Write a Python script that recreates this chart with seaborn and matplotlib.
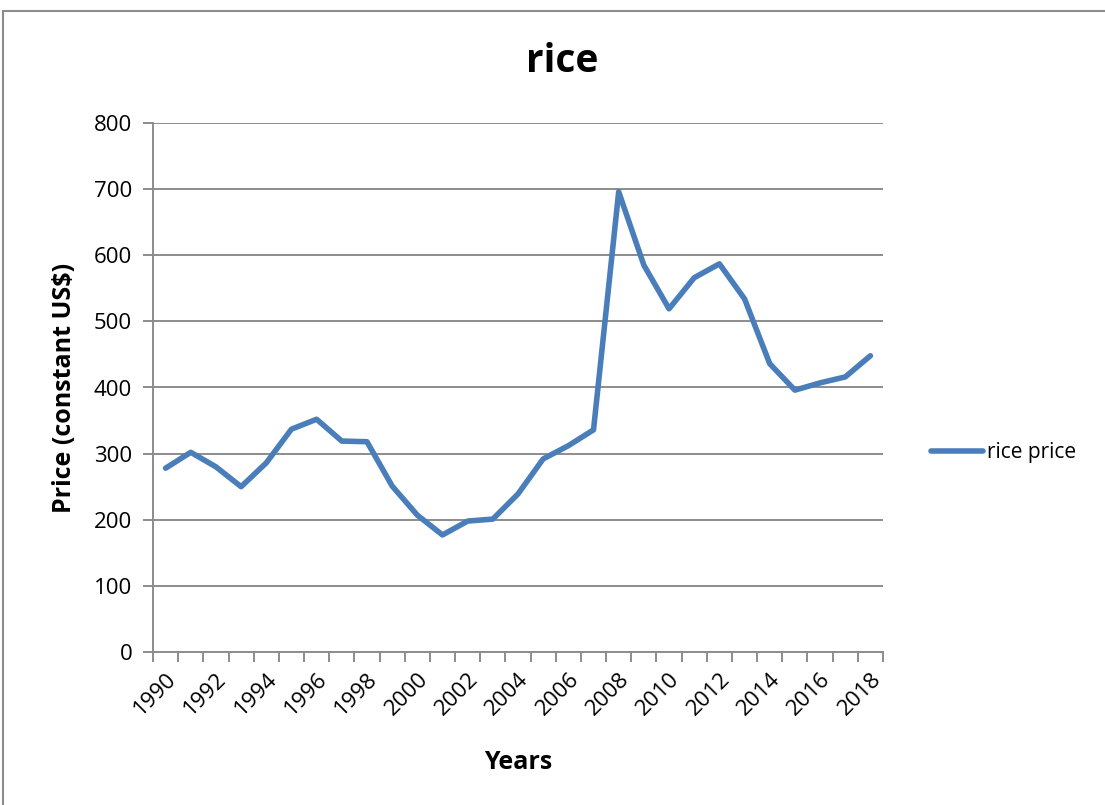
import matplotlib.pyplot as plt
import numpy as np
import pandas as pd
import seaborn as sns
from matplotlib.patches import Rectangle

years = list(range(1990, 2019))
prices = [278, 302, 280, 250, 286, 337, 352, 319, 318, 251,
          207, 177, 198, 201, 239, 292, 312, 336, 696, 585,
          519, 566, 587, 534, 436, 396, 407, 416, 448]

df = pd.DataFrame({'pos': np.arange(len(years)), 'price': prices})

sns.set_style('white')
plt.rcParams['font.family'] = ['Open Sans', 'DejaVu Sans']
plt.rcParams['text.color'] = 'black'
plt.rcParams['xtick.color'] = 'black'
plt.rcParams['ytick.color'] = 'black'
plt.rcParams['axes.labelcolor'] = 'black'

fig = plt.figure(figsize=(11.05, 8.05), dpi=100)
ax = fig.add_axes([153/1105, 1 - 652/805, 730/1105, 529/805])

sns.lineplot(data=df, x='pos', y='price', ax=ax, color='#4A7EBB',
             linewidth=4, label='rice price', solid_joinstyle='round',
             solid_capstyle='round')

ax.set_ylim(0, 800)
ax.set_yticks(range(0, 801, 100))
ax.set_xlim(-0.5, len(years) - 0.5)
ax.grid(axis='y', color='#8c8c8c', linewidth=1.4)
ax.set_axisbelow(True)

# tick marks at category edges, labels every second year
ax.set_xticks(np.arange(-0.5, len(years)), labels=[])
ax.set_xticks(np.arange(0, len(years), 2), minor=True)
ax.set_xticklabels([str(y) for y in years[::2]], minor=True,
                   rotation=45, ha='right', va='top', rotation_mode='anchor',
                   fontsize=16)
ax.tick_params(axis='x', which='major', length=7, width=1.4, color='#8c8c8c',
               direction='out', bottom=True)
ax.tick_params(axis='x', which='minor', length=0, pad=12)
ax.tick_params(axis='y', length=7, width=1.4, color='#8c8c8c',
               direction='out', left=True, labelsize=16, pad=8)

for s in ['top', 'right']:
    ax.spines[s].set_visible(False)
for s in ['left', 'bottom']:
    ax.spines[s].set_color('#8c8c8c')
    ax.spines[s].set_linewidth(1.4)

ax.set_xlabel('Years', fontsize=18, fontweight='bold', labelpad=22)
ax.set_ylabel('Price (constant US$)', fontsize=18, fontweight='bold', labelpad=12)
fig.text(562/1105, 1 - 62/805, 'rice', fontsize=28, fontweight='bold',
         ha='center', va='center')

ax.legend(loc='center left', bbox_to_anchor=(1.04, 0.377), frameon=False,
          fontsize=15, handlelength=2.5, handletextpad=0.2)

fig.patches.append(Rectangle((3/1105, -0.1), 1.2, 1 - 11/805 + 0.1,
                             transform=fig.transFigure, fill=False,
                             edgecolor='#8c8c8c', linewidth=1.5))

fig.savefig('out.png', dpi=100)
